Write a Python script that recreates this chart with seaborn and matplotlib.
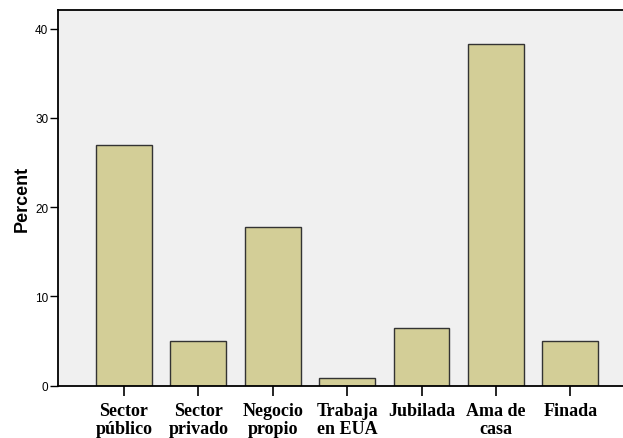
import matplotlib
matplotlib.use("Agg")
import matplotlib.pyplot as plt
import pandas as pd
import seaborn as sns

categories = ["Sector\npúblico", "Sector\nprivado", "Negocio\npropio",
              "Trabaja\nen EUA", "Jubilada", "Ama de\ncasa", "Finada"]
percent = [27.0, 5.0, 17.8, 0.8, 6.4, 38.3, 5.0]
yticks = [0, 10, 20, 30, 40]

df = pd.DataFrame({"cat": categories, "pct": percent})

sns.set_style("white")
plt.rcParams["font.family"] = ["Liberation Sans", "DejaVu Sans"]
plt.rcParams["text.color"] = "black"
plt.rcParams["axes.labelcolor"] = "black"
plt.rcParams["xtick.color"] = "black"
plt.rcParams["ytick.color"] = "black"

fig = plt.figure(figsize=(6.23, 4.39), dpi=100)
ax = fig.add_axes([58 / 623, 1 - 386.5 / 439, 1 - 58 / 623, (386.5 - 11) / 439])
ax.set_facecolor("#f0f0f0")

sns.barplot(data=df, x="cat", y="pct", color="#d3ce97", saturation=1,
            width=0.75, edgecolor="#333333", linewidth=1.0, ax=ax)

ax.set_xlim(-0.887, 6.708)
ax.set_ylim(0, 42.1)
ax.set_yticks(yticks)
ax.set_yticklabels([str(t) for t in yticks], fontsize=8.5)
ax.set_xlabel("")
ax.set_ylabel("Percent", fontsize=13, fontweight="bold", labelpad=3)

for lbl in ax.get_xticklabels():
    lbl.set_family(["Liberation Serif", "DejaVu Serif"])
    lbl.set_fontweight("bold")
    lbl.set_fontsize(13)
    lbl.set_linespacing(1.05)

ax.tick_params(axis="x", length=7, width=1.2, color="black", pad=5, bottom=True)
ax.tick_params(axis="y", length=6, width=1.0, color="black", pad=1, left=True)

for side in ["left", "bottom", "top"]:
    ax.spines[side].set_color("black")
    ax.spines[side].set_linewidth(1.3)
ax.spines["right"].set_visible(False)

fig.savefig("out.png", dpi=100)
